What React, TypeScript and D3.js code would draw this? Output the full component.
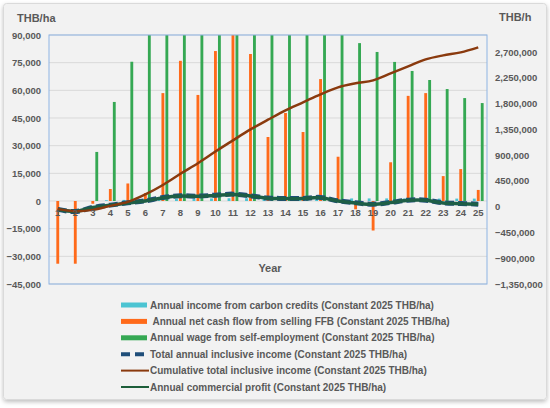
import { useEffect, useRef } from "react"
import * as d3 from "d3"

const years = d3.range(1, 26).map(String)

// bars, left axis (THB/ha)
const carbonCredits = [0, 0, 0, 400, 600, 800, 1000, 1200, 1300, 1400, 1500, 1500, 1500, 1500, 1500, 1500, 1500, 1400, 1400, 1400, 1400, 1300, 1300, 1300, 1300]
const ffbCashFlow = [-34000, -34000, -1500, 6500, 9500, 4300, 58500, 76000, 57500, 81300, 92000, 79700, 34700, 47700, 37400, 66100, 24000, -4500, -16000, 21000, 57000, 58500, 13500, 17300, 6000]
const selfWage = [0, 0, 26600, 53700, 75500, 96000, 102000, 108000, 112000, 115000, 117000, 118000, 118000, 117000, 112000, 106000, 94000, 85600, 80800, 75400, 70500, 65600, 60700, 55800, 53100]

// lines, right axis
const totalInclusive = [-47000, -85000, -12000, 28000, 68000, 103000, 162000, 190000, 185000, 202000, 220000, 190000, 152000, 145000, 145000, 162000, 103000, 68000, 45000, 75000, 115000, 115000, 68000, 57000, 45000]
const cumulativeInclusive = [-42000, -78000, -55000, 15000, 85000, 215000, 380000, 575000, 760000, 965000, 1160000, 1350000, 1520000, 1685000, 1824000, 1964000, 2086000, 2156000, 2208000, 2330000, 2452000, 2574000, 2644000, 2696000, 2783000]
const commercialProfit = [-45000, -82000, -14000, 25000, 65000, 100000, 158000, 187000, 182000, 198000, 215000, 188000, 150000, 142000, 143000, 158000, 101000, 65000, 42000, 72000, 111000, 112000, 65000, 54000, 42000]

const leftTicks = d3.range(-45000, 90001, 15000)
const rightTicks = d3.range(-1350000, 2700001, 450000)

const legendItems = [
  { label: "Annual income from carbon credits (Constant 2025 THB/ha)", kind: "bar", color: "#4cc4d2" },
  { label: " Annual net cash flow from selling FFB (Constant 2025 THB/ha)", kind: "bar", color: "#ff6a1a" },
  { label: "Annual wage from self-employment (Constant 2025 THB/ha)", kind: "bar", color: "#35a853" },
  { label: "Total annual inclusive income (Constant 2025 THB/ha)", kind: "dash", color: "#1f4e79" },
  { label: "Cumulative total inclusive income (Constant 2025 THB/ha)", kind: "line", color: "#8a3a0e" },
  { label: "Annual commercial profit (Constant 2025 THB/ha)", kind: "line", color: "#1d5e3a" },
]

const W = 550
const H = 408
const font = "'Liberation Sans', Arial, sans-serif"
const textColor = "#595959"

export default function App() {
  const svgRef = useRef<SVGSVGElement>(null)

  useEffect(() => {
    if (!svgRef.current) return
    const root = d3.select(svgRef.current)
    root.selectAll("*").remove()

    const plot = { left: 49, right: 487, top: 35, bottom: 284 }

    // panel background
    const defs = root.append("defs")
    const shadow = defs.append("filter").attr("id", "shadow").attr("x", "-5%").attr("y", "-5%").attr("width", "110%").attr("height", "112%")
    shadow.append("feDropShadow").attr("dx", 0).attr("dy", 2).attr("stdDeviation", 2).attr("flood-opacity", 0.25)
    defs.append("clipPath").attr("id", "plotClip")
      .append("rect")
      .attr("x", plot.left)
      .attr("y", plot.top)
      .attr("width", plot.right - plot.left)
      .attr("height", plot.bottom - plot.top)

    root.append("rect").attr("width", W).attr("height", H).attr("fill", "#ffffff")
    root.append("rect")
      .attr("x", 3.5).attr("y", 3.5)
      .attr("width", 543).attr("height", 396)
      .attr("rx", 3)
      .attr("fill", "#f2f2f2")
      .attr("stroke", "#dadada")
      .attr("filter", "url(#shadow)")

    // scales
    const x = d3.scaleBand().domain(years).range([plot.left, plot.right]).paddingInner(0).paddingOuter(0)
    const xSub = d3.scaleBand().domain(["carbon", "ffb", "wage"]).range([-6.5, 6.5]).padding(0.28)
    const y = d3.scaleLinear().domain([-45000, 90000]).range([plot.bottom, plot.top])
    const yRight = d3.scaleLinear().domain([-1350000, 3000000]).range([plot.bottom, plot.top])
    const cx = (d: string) => (x(d) || 0) + x.bandwidth() / 2

    // grid
    root.append("g")
      .selectAll("line")
      .data(leftTicks)
      .enter()
      .append("line")
      .attr("x1", plot.left)
      .attr("x2", plot.right)
      .attr("y1", (d) => y(d))
      .attr("y2", (d) => y(d))
      .attr("stroke", "#d9d9d9")
      .attr("stroke-width", 1)

    // left axis labels
    root.append("g")
      .selectAll("text")
      .data(leftTicks)
      .enter()
      .append("text")
      .attr("x", 41)
      .attr("y", (d) => y(d) + 3.5)
      .attr("text-anchor", "end")
      .attr("font-family", font)
      .attr("font-size", "9.5px")
      .attr("font-weight", "bold")
      .attr("fill", textColor)
      .text((d) => d3.format(",")(d))

    // right axis labels
    root.append("g")
      .selectAll("text")
      .data(rightTicks)
      .enter()
      .append("text")
      .attr("x", 495)
      .attr("y", (d) => yRight(d) + 3.5)
      .attr("font-family", font)
      .attr("font-size", "9.5px")
      .attr("font-weight", "bold")
      .attr("fill", textColor)
      .text((d) => d3.format(",")(d))

    // axis titles
    root.append("text")
      .attr("x", 17).attr("y", 22)
      .attr("font-family", font).attr("font-size", "11px").attr("font-weight", "bold")
      .attr("fill", textColor)
      .text("THB/ha")
    root.append("text")
      .attr("x", 499).attr("y", 21)
      .attr("font-family", font).attr("font-size", "11px").attr("font-weight", "bold")
      .attr("fill", textColor)
      .text("THB/h")

    const chart = root.append("g").attr("clip-path", "url(#plotClip)")

    // bars
    const barSeries = [
      { key: "carbon", values: carbonCredits, color: legendItems[0].color },
      { key: "ffb", values: ffbCashFlow, color: legendItems[1].color },
      { key: "wage", values: selfWage, color: legendItems[2].color },
    ]
    barSeries.forEach((s) => {
      chart.append("g")
        .selectAll("rect")
        .data(s.values)
        .enter()
        .append("rect")
        .attr("x", (_d, i) => cx(years[i]) + (xSub(s.key) || 0))
        .attr("width", xSub.bandwidth())
        .attr("y", (d) => y(Math.max(0, d)))
        .attr("height", (d) => Math.abs(y(d) - y(0)))
        .attr("fill", s.color)
    })

    // year labels
    root.append("g")
      .selectAll("text")
      .data(years)
      .enter()
      .append("text")
      .attr("x", (d) => cx(d))
      .attr("y", 216)
      .attr("text-anchor", "middle")
      .attr("font-family", font)
      .attr("font-size", "9.5px")
      .attr("font-weight", "bold")
      .attr("fill", textColor)
      .text((d) => d)

    const lineOf = (values: number[]) =>
      d3.line<number>()
        .x((_d, i) => cx(years[i]))
        .y((d) => yRight(d))
        .curve(d3.curveCatmullRom)(values)

    // total annual inclusive income (dashed)
    chart.append("path")
      .attr("d", lineOf(totalInclusive))
      .attr("fill", "none")
      .attr("stroke", "#1f4e79")
      .attr("stroke-width", 5)
      .attr("stroke-dasharray", "9,4")

    // annual commercial profit
    chart.append("path")
      .attr("d", lineOf(commercialProfit))
      .attr("fill", "none")
      .attr("stroke", "#1d5e46")
      .attr("stroke-width", 3.5)

    // cumulative
    chart.append("path")
      .attr("d", lineOf(cumulativeInclusive))
      .attr("fill", "none")
      .attr("stroke", "#8a3a0e")
      .attr("stroke-width", 2.5)

    // plot border
    root.append("rect")
      .attr("x", plot.left).attr("y", plot.top)
      .attr("width", plot.right - plot.left)
      .attr("height", plot.bottom - plot.top)
      .attr("fill", "none")
      .attr("stroke", "#8eb4e3")
      .attr("stroke-width", 1)

    root.append("text")
      .attr("x", 270).attr("y", 272)
      .attr("text-anchor", "middle")
      .attr("font-family", font).attr("font-size", "11px").attr("font-weight", "bold")
      .attr("fill", textColor)
      .text("Year")

    // legend
    const legend = root.append("g").attr("transform", "translate(121, 305)")
    legendItems.forEach((item, i) => {
      const row = legend.append("g").attr("transform", `translate(0, ${i * 16.4})`)
      if (item.kind === "bar") {
        row.append("rect").attr("x", 0).attr("y", -2.5).attr("width", 26).attr("height", 5).attr("fill", item.color)
      } else if (item.kind === "dash") {
        row.append("line").attr("x1", 0).attr("x2", 25).attr("y1", 0).attr("y2", 0)
          .attr("stroke", item.color).attr("stroke-width", 4).attr("stroke-dasharray", "9,5")
      } else {
        row.append("line").attr("x1", 0).attr("x2", 28).attr("y1", 0).attr("y2", 0)
          .attr("stroke", item.color).attr("stroke-width", 2)
      }
      row.append("text")
        .attr("x", 29)
        .attr("y", 3.5)
        .attr("font-family", font)
        .attr("font-size", "10px")
        .attr("font-weight", "bold")
        .attr("fill", textColor)
        .style("white-space", "pre")
        .text(item.label)
    })
  }, [])

  return (
    <div style={{ position: "absolute", left: 0, top: 0 }}>
      <svg ref={svgRef} width={W} height={H} style={{ display: "block" }} />
    </div>
  )
}
